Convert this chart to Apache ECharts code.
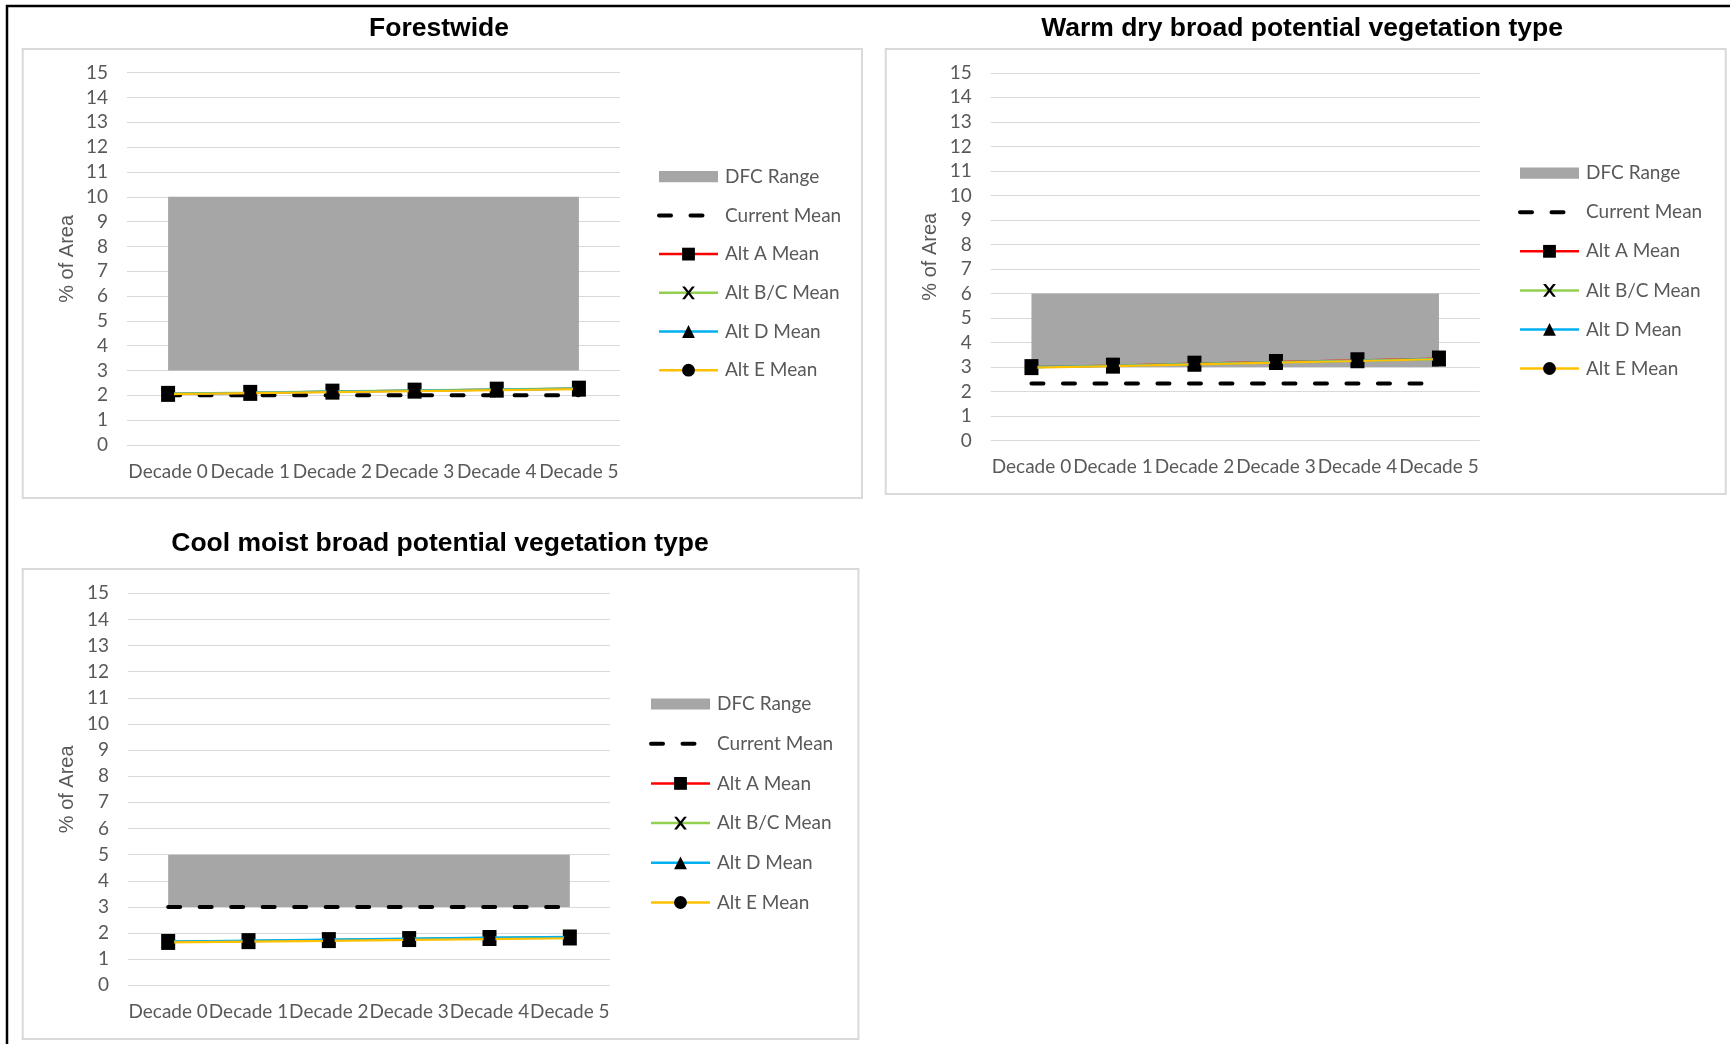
<!DOCTYPE html>
<html>
<head>
<meta charset="utf-8">
<script src="https://cdn.jsdelivr.net/npm/echarts@6/dist/echarts.min.js"></script>
<style>
  html, body { margin: 0; padding: 0; background: #ffffff; }
  #chart { width: 1730px; height: 1044px; }
</style>
</head>
<body>
<div id="chart"></div>
<script>
// ---- data ----
const categories = ['Decade 0', 'Decade 1', 'Decade 2', 'Decade 3', 'Decade 4', 'Decade 5'];
const seriesNames = ['DFC Range', 'Current Mean', 'Alt A Mean', 'Alt B/C Mean', 'Alt D Mean', 'Alt E Mean'];

// Forestwide
const forestDfcLow  = [3, 3, 3, 3, 3, 3];
const forestDfcHigh = [10, 10, 10, 10, 10, 10];
const forestCurrent = [2, 2, 2, 2, 2, 2];
const forestAltA  = [2.06, 2.10, 2.15, 2.19, 2.23, 2.27];
const forestAltBC = [2.07, 2.11, 2.16, 2.20, 2.24, 2.28];
const forestAltD  = [2.06, 2.10, 2.15, 2.19, 2.23, 2.27];
const forestAltE  = [2.05, 2.09, 2.13, 2.17, 2.21, 2.25];

// Warm dry broad PVT
const warmDfcLow  = [3, 3, 3, 3, 3, 3];
const warmDfcHigh = [6, 6, 6, 6, 6, 6];
const warmCurrent = [2.33, 2.33, 2.33, 2.33, 2.33, 2.33];
const warmAltA  = [3.00, 3.06, 3.14, 3.21, 3.28, 3.35];
const warmAltBC = [3.00, 3.06, 3.13, 3.20, 3.27, 3.34];
const warmAltD  = [3.00, 3.05, 3.12, 3.19, 3.26, 3.33];
const warmAltE  = [2.98, 3.04, 3.11, 3.18, 3.25, 3.32];

// Cool moist broad PVT
const coolDfcLow  = [3, 3, 3, 3, 3, 3];
const coolDfcHigh = [5, 5, 5, 5, 5, 5];
const coolCurrent = [3, 3, 3, 3, 3, 3];
const coolAltA  = [1.66, 1.69, 1.73, 1.77, 1.81, 1.83];
const coolAltBC = [1.67, 1.70, 1.74, 1.78, 1.82, 1.84];
const coolAltD  = [1.67, 1.71, 1.75, 1.79, 1.83, 1.85];
const coolAltE  = [1.64, 1.67, 1.70, 1.74, 1.77, 1.80];

// ---- styling / layout ----
const UI_FONT = 'Lato, "Noto Sans", sans-serif';
const TITLE_FONT = '"Liberation Sans", Arial, sans-serif';
const TEXT_GREY = '#595959';
const GRID_GREY = '#d9d9d9';
const X_MARK = 'path://M0 0L2.2 0L5 3.6L7.8 0L10 0L6.2 5L10 10L7.8 10L5 6.4L2.2 10L0 10L3.8 5Z';
const altStyles = [
  { color: '#ff0000', symbol: 'rect',     size: [14, 16] },
  { color: '#92d050', symbol: X_MARK,     size: [10, 12] },
  { color: '#00b0f0', symbol: 'triangle', size: [12, 14] },
  { color: '#ffc000', symbol: 'circle',   size: [12, 13] }
];
const CURRENT_DASH = { color: '#000000', width: 4, type: [12, 19.5], cap: 'round' };

const panels = [
  {
    title: 'Forestwide', titleX: 439, titleY: 28.7,
    box: [22.7, 49, 839.3, 449],
    grid: { left: 127, top: 72.7, width: 493, height: 372.3 },
    nameGap: 50,
    legend: { left: 657, top: 166.7, gap: 18.7 },
    low: forestDfcLow, high: forestDfcHigh, current: forestCurrent,
    alts: [forestAltA, forestAltBC, forestAltD, forestAltE]
  },
  {
    title: 'Warm dry broad potential vegetation type', titleX: 1302, titleY: 28.7,
    box: [885.7, 49, 840, 445],
    grid: { left: 990.7, top: 72.8, width: 489, height: 367.9 },
    nameGap: 50,
    legend: { left: 1518, top: 163.2, gap: 19.06 },
    low: warmDfcLow, high: warmDfcHigh, current: warmCurrent,
    alts: [warmAltA, warmAltBC, warmAltD, warmAltE]
  },
  {
    title: 'Cool moist broad potential vegetation type', titleX: 440, titleY: 543.5,
    box: [22.7, 569, 835.7, 470],
    grid: { left: 128, top: 593.3, width: 482, height: 392 },
    nameGap: 51,
    legend: { left: 649, top: 694, gap: 19.7 },
    low: coolDfcLow, high: coolDfcHigh, current: coolCurrent,
    alts: [coolAltA, coolAltBC, coolAltD, coolAltE]
  }
];

const grids = [], xAxes = [], yAxes = [], legends = [], series = [], graphics = [];

panels.forEach((p, i) => {
  grids.push(Object.assign({ containLabel: false }, p.grid));

  xAxes.push({
    type: 'category', gridIndex: i, data: categories, boundaryGap: true,
    axisLine: { show: false }, axisTick: { show: false },
    axisLabel: { interval: 0, margin: 17, color: TEXT_GREY, fontSize: 19, fontFamily: UI_FONT },
    splitLine: { show: false }
  });

  yAxes.push({
    type: 'value', gridIndex: i, min: 0, max: 15, interval: 1,
    name: '% of Area', nameLocation: 'middle', nameGap: p.nameGap, nameRotate: 90,
    nameTextStyle: { color: TEXT_GREY, fontSize: 20, fontFamily: TITLE_FONT },
    axisLine: { show: false }, axisTick: { show: false },
    axisLabel: { margin: 19, color: TEXT_GREY, fontSize: 19, fontFamily: UI_FONT },
    splitLine: { show: true, lineStyle: { color: GRID_GREY, width: 1 } }
  });

  legends.push({
    orient: 'vertical', left: p.legend.left, top: p.legend.top, padding: 0,
    itemWidth: 59, itemHeight: 16, itemGap: p.legend.gap,
    selectedMode: false,
    textStyle: { color: TEXT_GREY, fontSize: 19, fontFamily: UI_FONT, lineHeight: 20, padding: [0, 0, 0, 2] },
    data: [
      { name: seriesNames[0], icon: 'path://M0 0H58V11H0Z' },
      { name: seriesNames[1], itemStyle: { opacity: 0 }, lineStyle: CURRENT_DASH },
      { name: seriesNames[2], lineStyle: { width: 2.5 } },
      { name: seriesNames[3], lineStyle: { width: 2.5 } },
      { name: seriesNames[4], lineStyle: { width: 2.5 } },
      { name: seriesNames[5], lineStyle: { width: 2.5 } }
    ]
  });

  const stackId = 'dfc' + i;
  // lower bound of the DFC band (invisible floor of the stack)
  series.push({
    type: 'line', name: 'DFC floor ' + i, xAxisIndex: i, yAxisIndex: i,
    stack: stackId, data: p.low, symbol: 'none', silent: true,
    lineStyle: { width: 0, opacity: 0 }, z: 1
  });
  // DFC band thickness stacked on the floor
  series.push({
    type: 'line', name: seriesNames[0], xAxisIndex: i, yAxisIndex: i,
    stack: stackId, data: p.high.map((h, k) => h - p.low[k]), symbol: 'none', silent: true,
    itemStyle: { color: '#a6a6a6' },
    lineStyle: { width: 0, opacity: 0 },
    areaStyle: { color: '#a6a6a6', opacity: 1 }, z: 1
  });
  series.push({
    type: 'line', name: seriesNames[1], xAxisIndex: i, yAxisIndex: i,
    data: p.current, symbol: 'none', silent: true,
    itemStyle: { color: '#000000' },
    lineStyle: CURRENT_DASH, z: 3
  });
  p.alts.forEach((vals, k) => {
    const st = altStyles[k];
    series.push({
      type: 'line', name: seriesNames[k + 2], xAxisIndex: i, yAxisIndex: i,
      data: vals, symbol: st.symbol, symbolSize: st.size, showSymbol: true, silent: true,
      itemStyle: { color: '#000000', borderWidth: 0 },
      lineStyle: { color: st.color, width: 2.2 }, z: 4 + k
    });
  });

  // panel frame
  graphics.push({
    type: 'rect', z: -10, silent: true,
    shape: { x: p.box[0], y: p.box[1], width: p.box[2], height: p.box[3] },
    style: { fill: '#ffffff', stroke: GRID_GREY, lineWidth: 2 }
  });
  // panel title
  graphics.push({
    type: 'text', x: p.titleX, y: p.titleY, silent: true,
    style: {
      text: p.title, align: 'center', verticalAlign: 'middle',
      fontFamily: TITLE_FONT, fontWeight: 'bold', fontSize: 26.5, fill: '#000000'
    }
  });
});

// outer page border (top and left edges)
graphics.push({
  type: 'polyline', silent: true, z: 100,
  shape: { points: [[7, 1044], [7, 6], [1730, 6]] },
  style: { stroke: '#000000', lineWidth: 2.5, fill: null }
});

const chart = echarts.init(document.getElementById('chart'), null, { renderer: 'canvas' });
chart.setOption({
  animation: false,
  backgroundColor: '#ffffff',
  grid: grids,
  xAxis: xAxes,
  yAxis: yAxes,
  legend: legends,
  series: series,
  graphic: graphics
});
</script>
</body>
</html>
